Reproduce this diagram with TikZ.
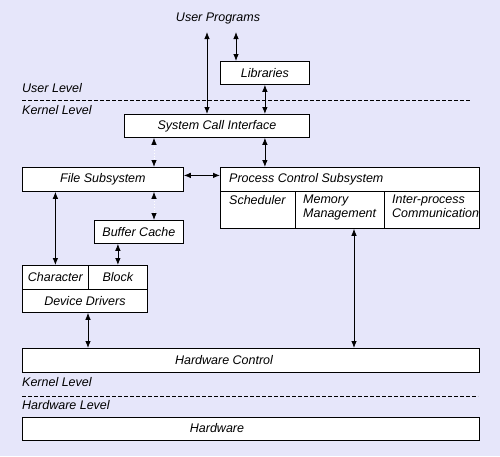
\documentclass[tikz,border=0pt]{standalone}
\usepackage{fontspec}
\setmainfont{Liberation Sans}
\usetikzlibrary{arrows.meta}

\definecolor{bgcol}{RGB}{230,230,250}

\tikzset{
  every node/.style={font=\fontsize{12.5}{14}\selectfont\itshape},
  box/.style={draw, fill=white, line width=0.8pt, anchor=north west, inner sep=0pt},
  txt/.style={inner sep=0pt, align=left},
  link/.style={line width=0.8pt, {Latex[length=7pt,width=5.5pt]}-{Latex[length=7pt,width=5.5pt]}},
  faint/.style={draw=white, line width=0.8pt, dotted,
    {Latex[length=7pt,width=5.5pt,color=black]}-{Latex[length=7pt,width=5.5pt,color=black]}},
  lvl/.style={anchor=west, inner sep=0pt},
  sepline/.style={line width=0.6pt, dash pattern=on 4pt off 2pt}
}

\begin{document}
\begin{tikzpicture}[x=1pt,y=-1pt]

\fill[bgcol] (0,0) rectangle (500,456);
\useasboundingbox (0,0) rectangle (500,456);

% levels
\node[lvl] (ulvl) at (22,88) {User Level};
\node[lvl] (klvla) at (22,110) {Kernel Level};
\node[lvl] (klvlb) at (22,382) {Kernel Level};
\node[lvl] (hlvl) at (22,405) {Hardware Level};
\draw[sepline] (22,100) -- (470,100);
\draw[sepline] (22,396) -- (478,396);

% user side
\node[txt] (up) at (218,18) {User Programs};
\coordinate (upa) at (207,32);
\coordinate (upb) at (236,32);
\node[box, minimum width=89, minimum height=23] (lib) at (220,61) {Libraries};
\node[box, minimum width=185, minimum height=23] (sci) at (124,114) {System Call Interface};

% kernel
\node[box, minimum width=161, minimum height=24] (fs) at (22,167) {File Subsystem};
\node[box, minimum width=259, minimum height=24] (pcs) at (220,167) {};
\node[txt, anchor=west] (pcst) at (229,179) {Process Control Subsystem};
\node[box, minimum width=75, minimum height=37] (sch) at (220,191) {};
\node[box, minimum width=89, minimum height=37] (mem) at (295,191) {};
\node[box, minimum width=95, minimum height=37] (ipc) at (384,191) {};
\node[txt, anchor=north west] (scht) at (229,195) {Scheduler};
\node[txt, anchor=north west] (memt) at (303,195) {Memory\\Management};
\node[txt, anchor=north west] (ipct) at (392,195) {Inter-process\\Communication};

\node[box, minimum width=89, minimum height=23] (bc) at (94,220) {Buffer Cache};
\node[box, minimum width=66, minimum height=24] (chr) at (22,265) {Character};
\node[box, minimum width=59, minimum height=24] (blk) at (88,265) {Block};
\node[box, minimum width=125, minimum height=23] (dd) at (22,289) {Device Drivers};

% hardware
\node[box, minimum width=457, minimum height=24] (hwc) at (22,348) {};
\node[txt] (hwct) at (224,360) {Hardware Control};
\node[box, minimum width=457, minimum height=23] (hw) at (22,417) {};
\node[txt] (hwt) at (217,428.5) {Hardware};

% connectors
\coordinate (colA) at (154,0);
\coordinate (colB) at (354,0);
\draw[link] (upa) -- (upa |- sci.north);
\draw[link] (upb) -- (upb |- lib.north);
\draw[link] (lib.south) -- (lib.south |- sci.north);
\draw[faint] (sci.south -| colA) -- (fs.north -| colA);
\draw[link] (sci.south -| lib.south) -- (pcs.north -| lib.south);
\draw[link] ([yshift=4pt]fs.east) -- ([yshift=4pt]fs.east -| pcs.west);
\draw[faint] (fs.south -| colA) -- (bc.north -| colA);
\draw[link] (chr.north) -- (chr.north |- fs.south);
\draw[link] (blk.north) -- (blk.north |- bc.south);
\draw[link] (dd.south -| blk.west) -- (hwc.north -| blk.west);
\draw[link] (mem.south -| colB) -- (hwc.north -| colB);

\end{tikzpicture}
\end{document}
